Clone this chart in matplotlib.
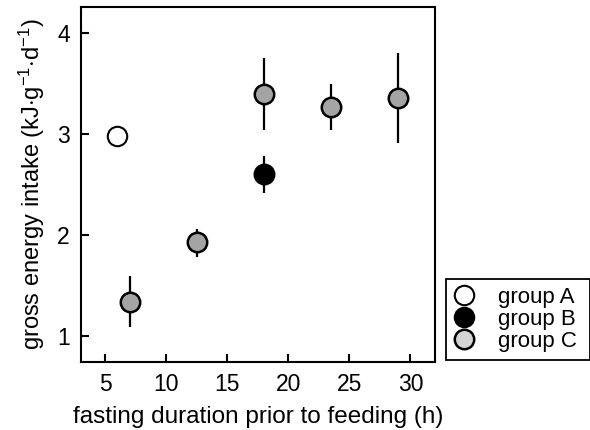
import matplotlib
matplotlib.use("Agg")
import matplotlib.pyplot as plt

plt.rcParams["font.family"] = ["Liberation Sans", "DejaVu Sans"]
plt.rcParams["mathtext.fontset"] = "custom"
plt.rcParams["mathtext.rm"] = "Liberation Sans"
plt.rcParams["mathtext.it"] = "Liberation Sans"

# group A
a_x = [6]
a_y = [2.98]

# group B
b_x = [18]
b_y = [2.6]
b_err = [0.18]

# group C
c_x = [7, 12.5, 18, 23.5, 29]
c_y = [1.34, 1.93, 3.4, 3.27, 3.36]
c_lo = [0.25, 0.15, 0.36, 0.23, 0.45]
c_hi = [0.25, 0.13, 0.35, 0.23, 0.44]

xticks = [5, 10, 15, 20, 25, 30]
yticks = [1, 2, 3, 4]

fig = plt.figure(figsize=(5.9, 4.3), dpi=100)
ax = fig.add_axes([0.137, 0.158, 0.6, 0.826])

ms = 14
ax.errorbar(c_x, c_y, yerr=[c_lo, c_hi], fmt="o", color="black", ecolor="black",
            elinewidth=1.6, capsize=0, markersize=ms, markerfacecolor="#a4a4a4",
            markeredgecolor="black", markeredgewidth=1.8, zorder=3)
ax.errorbar(b_x, b_y, yerr=b_err, fmt="o", color="black", ecolor="black",
            elinewidth=1.6, capsize=0, markersize=ms, markerfacecolor="black",
            markeredgecolor="black", markeredgewidth=1.8, zorder=3)
ax.plot(a_x, a_y, "o", markersize=ms, markerfacecolor="white",
        markeredgecolor="black", markeredgewidth=1.5, zorder=3)

ax.set_xlim(3, 32)
ax.set_ylim(0.74, 4.26)
ax.set_xticks(xticks)
ax.set_yticks(yticks)
ax.tick_params(direction="in", length=6, width=1.5, labelsize=16.5, pad=8)
for s in ax.spines.values():
    s.set_linewidth(1.5)

ax.set_xlabel("fasting duration prior to feeding (h)", fontsize=17.5, labelpad=7)
ax.set_ylabel(r"gross energy intake (kJ$\cdot$g$^{-1}$$\cdot$d$^{-1}$)", fontsize=17, labelpad=7)

hA = plt.Line2D([], [], marker="o", linestyle="none", markersize=14,
                markerfacecolor="white", markeredgecolor="black", markeredgewidth=1.5)
hB = plt.Line2D([], [], marker="o", linestyle="none", markersize=14,
                markerfacecolor="black", markeredgecolor="black", markeredgewidth=1.5)
hC = plt.Line2D([], [], marker="o", linestyle="none", markersize=14,
                markerfacecolor="#d4d4d4", markeredgecolor="black", markeredgewidth=1.8)
leg = fig.legend([hA, hB, hC], ["group A", "group B", "group C"],
                 loc="lower left", bbox_to_anchor=(0.756, 0.163, 0.244, 0.216),
                 mode="expand", fontsize=16, frameon=True, fancybox=False,
                 handletextpad=1.1, labelspacing=0.05, borderaxespad=0,
                 borderpad=0.35, edgecolor="black", framealpha=1, handlelength=0.9)
leg.get_frame().set_linewidth(1.3)

fig.savefig("out.png", dpi=100)
